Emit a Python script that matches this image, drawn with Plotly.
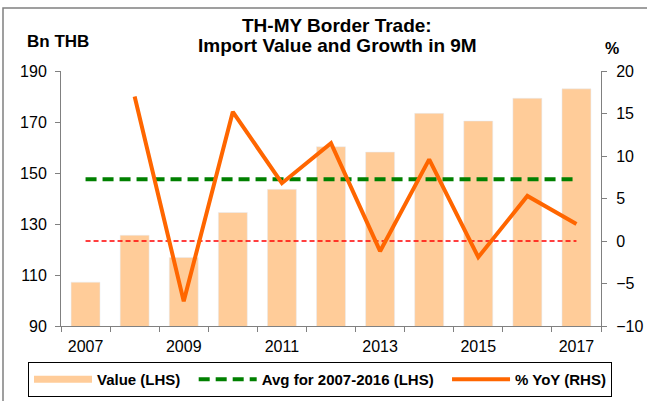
import plotly.graph_objects as go

years = ["2007", "2008", "2009", "2010", "2011", "2012", "2013", "2014", "2015", "2016", "2017"]
tick_labels = ["2007", "", "2009", "", "2011", "", "2013", "", "2015", "", "2017"]
import_value = [107.2, 125.6, 116.9, 134.5, 143.6, 160.3, 158.2, 173.4, 170.4, 179.3, 183.0]
yoy_years = ["2008", "2009", "2010", "2011", "2012", "2013", "2014", "2015", "2016", "2017"]
yoy_pct = [17.0, -7.1, 15.2, 6.8, 11.5, -1.2, 9.6, -1.9, 5.3, 2.0]
avg_2007_2016 = 147.5
zero_ref = 0.0

FONT = "Arial, Liberation Sans, sans-serif"
BAR_C = "#FFCC99"
LINE_C = "#FF6600"
AVG_C = "#008000"

W, H = 647, 401
L, R, T, B = 61, 601, 71, 326
def px(x):
    return (x - L) / (R - L)
def py(y):
    return (B - y) / (B - T)

SP = "&nbsp;&nbsp;"
fig = go.Figure()
fig.add_trace(go.Bar(x=years, y=import_value, marker_color=BAR_C, showlegend=False,
                     name="Value (LHS)"))
# legend proxy for bar (wide swatch)
fig.add_trace(go.Scatter(x=[None], y=[None], mode="lines", name="Value (LHS)" + SP,
                         line=dict(color=BAR_C, width=7)))
fig.add_trace(go.Scatter(x=years, y=[avg_2007_2016] * len(years), mode="lines",
                         name="Avg for 2007-2016 (LHS)" + SP,
                         line=dict(color=AVG_C, width=4, dash="11px,6px")))
fig.add_trace(go.Scatter(x=years, y=[zero_ref] * len(years), mode="lines", yaxis="y2",
                         showlegend=False, line=dict(color="#FF0000", width=1.6, dash="5px,3px")))
fig.add_trace(go.Scatter(x=yoy_years, y=yoy_pct, mode="lines", yaxis="y2",
                         name="% YoY (RHS)", line=dict(color=LINE_C, width=4)))

axis_font = dict(family=FONT, size=16, color="black")
fig.update_layout(
    width=W, height=H,
    margin=dict(l=L, r=W - R, t=T, b=H - B, autoexpand=False),
    paper_bgcolor="white", plot_bgcolor="white",
    font=dict(family=FONT, color="black"),
    bargap=0.41,
    xaxis=dict(type="category", tickvals=years, ticktext=tick_labels, tickson="boundaries",
               ticks="outside", ticklen=5, tickcolor="#808080", showline=True,
               linecolor="#808080", linewidth=1, showgrid=False, tickfont=axis_font,
               range=[-0.5, 10.5], automargin=False, ticklabelstandoff=6),
    yaxis=dict(range=[90, 190], tick0=90, dtick=20, ticks="outside", ticklen=5,
               tickcolor="#808080", showline=True, linecolor="#808080", showgrid=False,
               zeroline=False, tickfont=axis_font, automargin=False, ticklabelstandoff=5),
    yaxis2=dict(range=[-10, 20], tick0=-10, dtick=5, overlaying="y", side="right",
                ticks="outside", ticklen=5, tickcolor="#808080", showline=True,
                linecolor="#808080", showgrid=False, zeroline=False, tickfont=axis_font,
                automargin=False, ticklabelstandoff=6),
    legend=dict(orientation="h", x=px(28), y=py(362), xanchor="left", yanchor="top",
                bordercolor="black", borderwidth=1, bgcolor="white", itemwidth=58,
                font=dict(family=FONT, size=15, color="black", weight="bold")),
    shapes=[dict(type="rect", xref="paper", yref="paper", x0=px(3), x1=px(700),
                 y0=py(450), y1=py(8), line=dict(color="#808080", width=1.5))],
    annotations=[
        dict(text="<b>TH-MY Border Trade:</b>", xref="paper", yref="paper",
             x=px(337), y=py(26), xanchor="center", yanchor="middle", showarrow=False,
             font=dict(family=FONT, size=19, color="black")),
        dict(text="<b>Import Value and Growth in 9M</b>", xref="paper", yref="paper",
             x=px(337), y=py(46), xanchor="center", yanchor="middle", showarrow=False,
             font=dict(family=FONT, size=19, color="black")),
        dict(text="<b>Bn THB</b>", xref="paper", yref="paper", x=px(58), y=py(42),
             xanchor="center", yanchor="middle",
             showarrow=False, font=dict(family=FONT, size=17, color="black")),
        dict(text="<b>%</b>", xref="paper", yref="paper", x=px(612), y=py(48),
             xanchor="center", yanchor="middle",
             showarrow=False, font=dict(family=FONT, size=16, color="black")),
    ],
)
fig.write_html("out.html", config={"displayModeBar": False},
               post_script="document.body.style.margin='0px';")
